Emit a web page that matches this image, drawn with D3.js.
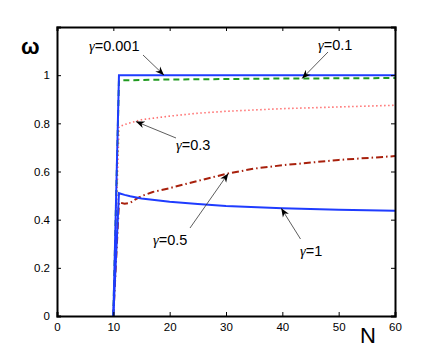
<!DOCTYPE html>
<html><head><meta charset="utf-8">
<script src="https://cdn.jsdelivr.net/npm/d3@7"></script>
<style>body{margin:0;background:#fff}svg{display:block}text{font-family:"Liberation Sans",Arial,sans-serif}</style>
</head><body>
<svg id="c" width="436" height="356"></svg>
<script>
const N_g0001 = [10, 11, 20, 30, 40, 50, 60];
const W_g0001 = [0, 1.0, 1.0, 1.0, 1.0, 1.0, 1.0];
const N_g01 = [10, 11, 15, 20, 30, 40, 50, 60];
const W_g01 = [0, 0.978, 0.980, 0.982, 0.984, 0.986, 0.987, 0.988];
const N_g03 = [10, 11, 12, 13, 15, 20, 25, 30, 40, 50, 60];
const W_g03 = [0, 0.785, 0.795, 0.802, 0.815, 0.830, 0.842, 0.850, 0.861, 0.868, 0.875];
const N_g05 = [10, 11, 12, 13, 14, 15, 17, 20, 25, 30, 35, 40, 50, 60];
const W_g05 = [0, 0.472, 0.466, 0.470, 0.485, 0.498, 0.515, 0.531, 0.561, 0.590, 0.612, 0.626, 0.648, 0.664];
const N_g1 = [10, 11, 12, 13, 15, 20, 25, 30, 40, 50, 60];
const W_g1 = [0, 0.510, 0.503, 0.497, 0.488, 0.474, 0.465, 0.457, 0.447, 0.441, 0.437];
const xTicks = [0, 10, 20, 30, 40, 50, 60];
const yTicks = [0, 0.2, 0.4, 0.6, 0.8, 1];

const svg = d3.select("#c");
const L = 57, R = 395, T = 27, B = 316;
const x = d3.scaleLinear().domain([0, 60]).range([L, R]);
const y = d3.scaleLinear().domain([0, 1.2]).range([B, T]);

const series = [
  {n: N_g05, w: W_g05, color: "#a8200c", dash: "7,3,1.5,3", width: 2},
  {n: N_g03, w: W_g03, color: "#ff7070", dash: "1.5,2.5", width: 1.6},
  {n: N_g01, w: W_g01, color: "#1f9a1f", dash: "6,4", width: 2},
  {n: N_g1, w: W_g1, color: "#1f3cff", dash: null, width: 2},
  {n: N_g0001, w: W_g0001, color: "#1f3cff", dash: null, width: 2},
];
const line = d3.line().x(d => x(d[0])).y(d => y(d[1]));
series.forEach(s => {
  svg.append("path").datum(s.n.map((v, i) => [v, s.w[i]]))
    .attr("d", line).attr("fill", "none").attr("stroke", s.color)
    .attr("stroke-width", s.width).attr("stroke-dasharray", s.dash);
});

// axes (box with inward ticks)
const fmt = d => d3.format("~g")(d);
const gB = svg.append("g").attr("transform", `translate(0,${B})`)
  .call(d3.axisBottom(x).tickValues(xTicks).tickSize(-4).tickPadding(7).tickFormat(fmt));
const gT = svg.append("g").attr("transform", `translate(0,${T})`)
  .call(d3.axisTop(x).tickValues(xTicks).tickSize(-4).tickFormat(""));
const gL = svg.append("g").attr("transform", `translate(${L},0)`)
  .call(d3.axisLeft(y).tickValues(yTicks).tickSize(-4).tickPadding(7).tickFormat(fmt));
const gR = svg.append("g").attr("transform", `translate(${R},0)`)
  .call(d3.axisRight(y).tickValues(yTicks).tickSize(-4).tickFormat(""));
[gB, gT, gL, gR].forEach(g => {
  g.select(".domain").attr("stroke", "#000").attr("stroke-width", 2);
  g.selectAll(".tick line").attr("stroke", "#000").attr("stroke-width", 1);
  g.selectAll("text").attr("font-size", 11.5).attr("fill", "#000")
    .attr("font-family", "Liberation Sans, Arial, sans-serif");
});

// axis labels
svg.append("text").attr("x", 21).attr("y", 54).attr("font-size", 22)
  .attr("font-family", "DejaVu Serif, serif").attr("font-weight", "bold").text("ω");
svg.append("text").attr("x", 360).attr("y", 343).attr("font-size", 22).text("N");

// annotations
const defs = svg.append("defs");
defs.append("marker").attr("id", "ah").attr("viewBox", "0 0 10 10").attr("refX", 10).attr("refY", 5)
  .attr("markerWidth", 11).attr("markerHeight", 11).attr("orient", "auto-start-reverse")
  .append("path").attr("d", "M0,1 L10,5 L0,9 L3,5 Z").attr("fill", "#000");
const noteLabels = ["0.001", "0.1", "0.3", "0.5", "1"];
const notes = [
  {tx: 89, ty: 51, x1: 143, y1: 55, nx: 19, wy: 1.0},
  {tx: 318, ty: 50, x1: 328, y1: 52, nx: 43.5, wy: 0.986},
  {tx: 176, ty: 150, x1: 176, y1: 138, nx: 14, wy: 0.8075},
  {tx: 153, ty: 245, x1: 190, y1: 228, nx: 30.4, wy: 0.592},
  {tx: 300, ty: 256, x1: 300.5, y1: 239, nx: 39.8, wy: 0.4475},
];
notes.forEach((n, i) => {
  svg.append("line").attr("x1", n.x1).attr("y1", n.y1).attr("x2", x(n.nx)).attr("y2", y(n.wy))
    .attr("stroke", "#333").attr("stroke-width", 0.8).attr("marker-end", "url(#ah)");
  const t = svg.append("text").attr("x", n.tx).attr("y", n.ty).attr("font-size", 14.5).attr("fill", "#000");
  t.append("tspan").attr("font-family", "Liberation Serif, serif").attr("font-style", "italic").text("γ");
  t.append("tspan").text("=" + noteLabels[i]);
});
</script>
</body></html>
